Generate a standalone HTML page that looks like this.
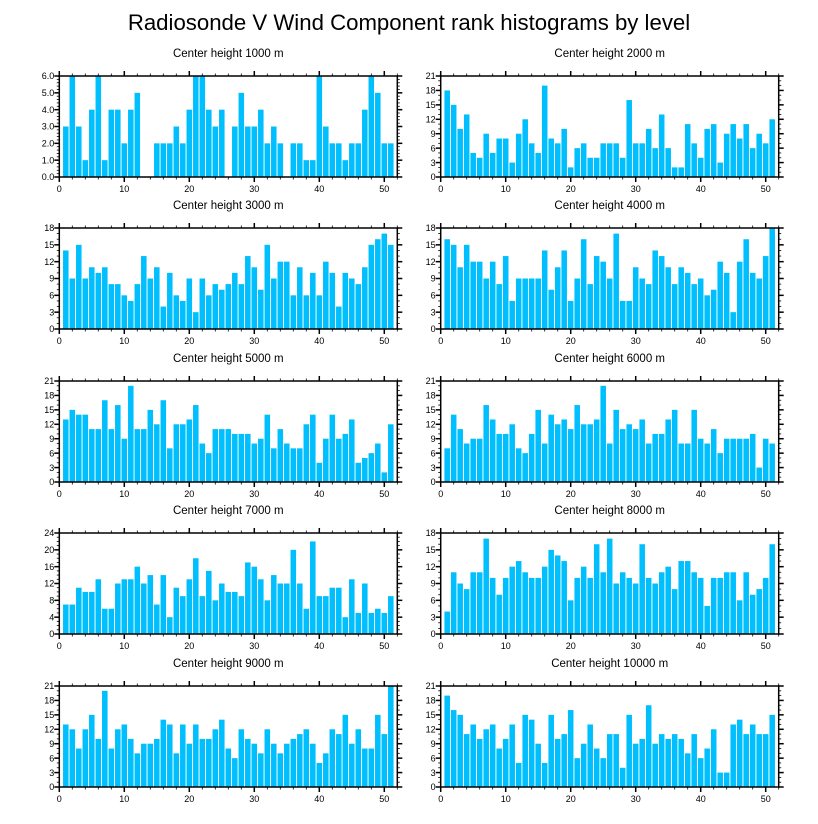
<!DOCTYPE html>
<html><head><meta charset="utf-8"><style>
html,body{margin:0;padding:0;background:#fff;}
svg{display:block;font-family:"Liberation Sans",sans-serif;}
</style></head><body>
<svg id="chart" width="818" height="824" viewBox="0 0 818 824" xmlns="http://www.w3.org/2000/svg">
<text x="409" y="30" font-size="22.2" text-anchor="middle">Radiosonde V Wind Component rank histograms by level</text>
</svg>
<script>
const panelTitles = ["Center height 1000 m","Center height 2000 m","Center height 3000 m","Center height 4000 m","Center height 5000 m","Center height 6000 m","Center height 7000 m","Center height 8000 m","Center height 9000 m","Center height 10000 m"];
const yMax = [6,21,18,18,21,21,24,18,21,21];
const yMajor = [1,3,3,3,3,3,4,3,3,3];
const yMinor = [0.2,1,1,1,1,1,1,1,1,1];
const xTickLabels = [0,10,20,30,40,50];
const counts1000 = [3,6,3,1,4,6,1,4,4,2,4,5,0,0,2,2,2,3,2,4,6,6,4,3,4,0,3,5,3,3,4,2,3,2,0,2,2,1,1,6,3,2,2,1,2,2,4,6,5,2,2];
const counts2000 = [18,15,10,13,5,4,9,5,8,8,3,9,12,7,5,19,8,7,10,2,6,7,4,4,7,7,7,4,16,7,7,10,6,13,6,2,2,11,7,4,10,11,3,9,11,8,11,6,9,7,12];
const counts3000 = [14,9,15,9,11,10,11,8,8,6,5,8,13,9,11,4,10,6,5,9,3,9,6,8,7,8,10,8,13,11,7,15,9,12,12,6,11,6,10,6,12,10,4,10,9,8,11,15,16,17,15];
const counts4000 = [16,15,11,15,12,12,9,12,8,13,5,9,9,9,9,14,7,11,14,5,9,16,8,13,12,9,17,5,5,11,9,8,14,13,11,8,11,10,8,9,6,7,12,10,3,12,16,10,9,13,18];
const counts5000 = [13,15,14,14,11,11,17,11,16,9,20,11,11,15,12,17,7,12,12,13,16,8,6,11,11,11,10,10,10,8,9,14,7,11,8,7,7,12,14,4,9,14,9,10,13,4,5,6,8,2,12];
const counts6000 = [7,14,11,8,9,9,16,13,10,10,12,7,6,10,15,8,14,12,13,11,16,12,12,13,20,8,15,11,12,11,13,8,10,10,13,15,8,8,15,9,8,11,6,9,9,9,9,10,3,9,8];
const counts7000 = [7,7,11,10,10,13,6,6,12,13,13,16,12,14,7,14,4,11,9,13,18,9,15,8,12,10,10,9,17,16,13,8,14,12,12,20,12,6,22,9,9,11,11,4,13,5,12,5,6,5,9];
const counts8000 = [4,11,9,8,11,11,17,10,7,10,12,13,11,10,10,12,15,14,13,6,10,12,10,16,11,17,9,11,10,9,16,10,9,11,12,8,13,13,11,10,5,10,10,11,11,6,11,7,8,10,16];
const counts9000 = [13,12,8,12,15,10,20,8,12,13,10,7,9,9,10,14,13,7,13,9,13,10,10,12,14,8,6,12,10,9,7,12,9,7,9,10,11,12,9,5,7,12,11,15,9,12,8,8,15,11,21];
const counts10000 = [19,16,15,11,13,10,12,13,8,10,13,5,15,14,9,5,15,10,11,16,6,9,13,8,6,11,11,4,15,9,10,17,9,11,10,11,10,7,11,6,8,12,3,3,13,14,11,13,11,11,15];
const allCounts = [counts1000,counts2000,counts3000,counts4000,counts5000,counts6000,counts7000,counts8000,counts9000,counts10000];

const NS = "http://www.w3.org/2000/svg";
const svg = document.getElementById("chart");
const XMAX = 52;
function mk(tag, attrs, parent){
  const e = document.createElementNS(NS, tag);
  for (const k in attrs) e.setAttribute(k, attrs[k]);
  parent.appendChild(e);
  return e;
}
const lefts = [59.3, 440.7];
const tops = [76, 228, 381, 533, 686];
const W = 338, H = 101;
allCounts.forEach((vals, p) => {
  const L = lefts[p % 2], T = tops[Math.floor(p / 2)];
  const g = mk("g", {}, svg);
  
  
  const xs = v => L + v / XMAX * W;
  const ys = v => T + H - v / yMax[p] * H;
  const t = mk("text", {x: L + W/2, y: T - 19, "font-size": 11.5, "text-anchor": "middle"}, g);
  t.textContent = panelTitles[p];
  
  
  vals.forEach((v, i) => {
    const x = i + 1;
    const bw = W / XMAX * 0.85;
    const r = mk("rect", {x: xs(x) - bw/2, y: ys(v), width: bw, height: ys(0) - ys(v), fill: "#00BFFF"}, g);
    
    
  });
  const frame = mk("rect", {x: L, y: T, width: W, height: H, fill: "none", stroke: "#000", "stroke-width": 1.5}, g);
  
  
  for (let v = 0; v <= XMAX; v += 2) {
    const major = v % 10 === 0, len = major ? 5 : 2.5, sw = major ? 1.5 : 0.8;
    mk("line", {x1: xs(v), x2: xs(v), y1: T + H, y2: T + H + len, stroke: "#000", "stroke-width": sw}, g);
    mk("line", {x1: xs(v), x2: xs(v), y1: T, y2: T - len, stroke: "#000", "stroke-width": sw}, g);
  }
  xTickLabels.forEach(v => {
    const tl = mk("text", {x: xs(v), y: T + H + 15, "font-size": 9, "text-anchor": "middle"}, g);
    tl.textContent = v;
    
    
  });
  const nMinor = Math.round(yMax[p] / yMinor[p]), per = Math.round(yMajor[p] / yMinor[p]);
  for (let k = 0; k <= nMinor; k++) {
    const v = k * yMinor[p], major = k % per === 0, len = major ? 5 : 2.5, sw = major ? 1.5 : 0.8;
    mk("line", {x1: L, x2: L - len, y1: ys(v), y2: ys(v), stroke: "#000", "stroke-width": sw}, g);
    mk("line", {x1: L + W, x2: L + W + len, y1: ys(v), y2: ys(v), stroke: "#000", "stroke-width": sw}, g);
    if (major) {
      const yl = mk("text", {x: L - 5, y: ys(v) + 3.2, "font-size": 9, "text-anchor": "end"}, g);
      yl.textContent = p === 0 ? v.toFixed(1) : Math.round(v);
      
      
    }
  }
});
</script>
</body></html>
